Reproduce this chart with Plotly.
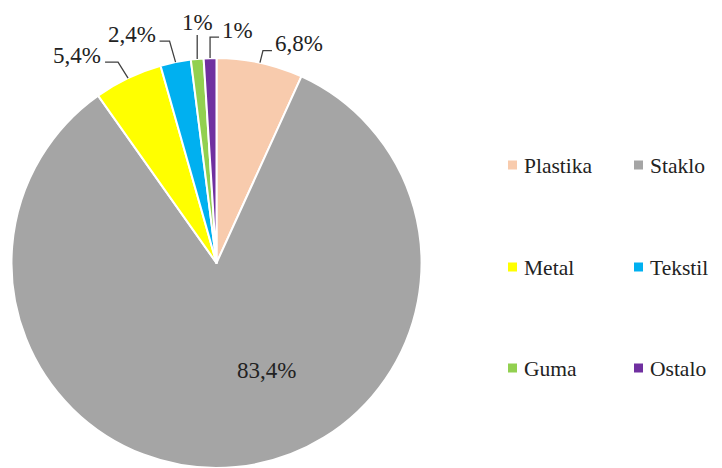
import numpy as np
import plotly.graph_objects as go

# podaci
kategorije = ["Plastika", "Staklo", "Metal", "Tekstil", "Guma", "Ostalo"]
udjeli = [6.8, 83.4, 5.4, 2.4, 1.0, 1.0]
oznake = ["6,8%", "83,4%", "5,4%", "2,4%", "1%", "1%"]
boje = ["#F8CBAD", "#A5A5A5", "#FFFF00", "#00B0F0", "#92D050", "#7030A0"]

# stranica ima 8px margine oko grafa, pa se sve pomiče
OFF = 8
W, H = 722 - 2 * OFF, 468 - OFF
CX, CY, R = 216.5, 263.0, 205.0  # centar i radijus pite (pikseli slike)

FONT = "Liberation Serif"


def px(x):
    return (x - OFF) / W


def py(y):
    return 1 - (y - OFF) / H


def tekst(x, y, t, xa="center", size=23):
    fig.add_annotation(x=px(x), y=py(y), xref="paper", yref="paper", text=t,
                       showarrow=False, xanchor=xa, yanchor="middle",
                       font=dict(family=FONT, size=size, color="#222"))


fig = go.Figure()
fig.add_trace(go.Pie(
    labels=kategorije, values=udjeli, sort=False, direction="clockwise",
    rotation=0, marker=dict(colors=boje, line=dict(color="white", width=2)),
    textinfo="none", hoverinfo="label+percent", showlegend=False,
    domain=dict(x=[px(CX - R), px(CX + R)], y=[max(0, py(CY + R)), py(CY - R)]),
))

# kutovi sredina isječaka (u smjeru kazaljke, od vrha)
kum = np.cumsum([0] + udjeli)
ukupno = kum[-1]
sredine = [(kum[i] + kum[i + 1]) / 2 / ukupno * 2 * np.pi for i in range(len(udjeli))]

# pomaci vodilica: (lakat dx, lakat dy, horizontalni dio)
vodilice = {0: (3, -12, 9), 2: (-10, -16, -13), 3: (-6, -21, -10), 4: (0, -24, 0), 5: (0, -21, 9)}

for i, ang in enumerate(sredine):
    if i == 1:
        # oznaka unutar velikog isječka
        tekst(266, 370, oznake[i])
        continue
    ex = CX + R * np.sin(ang)
    ey = CY - R * np.cos(ang)
    dx, dy, hl = vodilice[i]
    lx, ly = ex + dx, ey + dy
    kx = lx + hl
    fig.add_shape(type="path", xref="paper", yref="paper",
                  path=f"M {px(ex)} {py(ey)} L {px(lx)} {py(ly)} L {px(kx)} {py(ly)}",
                  line=dict(color="#404040", width=1.3))
    if hl > 0:
        tekst(kx + 1, ly - 7, oznake[i], "left")
    elif hl < 0:
        tekst(kx - 2, ly - 7, oznake[i], "right")
    else:
        tekst(lx, ly - 12, oznake[i])

# legenda: 2 stupca, 3 reda (desni stupac malo stisnut da stane)
stupci_x = [508, 634]
redovi_y = [165, 267, 368]
for i, (k, b) in enumerate(zip(kategorije, boje)):
    sx = stupci_x[i % 2]
    sy = redovi_y[i // 2]
    fig.add_shape(type="rect", xref="paper", yref="paper",
                  x0=px(sx), x1=px(sx + 9), y0=py(sy - 4.5), y1=py(sy + 4.5),
                  fillcolor=b, line=dict(width=0))
    tekst(sx + 14, sy + 1, k, "left", size=21.5)

fig.update_layout(
    width=W, height=H, margin=dict(l=0, r=0, t=0, b=0),
    plot_bgcolor="white", paper_bgcolor="white",
    font=dict(family=FONT),
)

fig.write_html("out.html")
